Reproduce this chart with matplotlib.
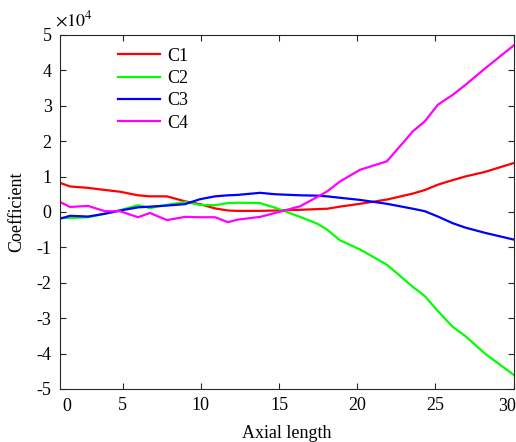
import matplotlib
matplotlib.use("Agg")
import matplotlib.pyplot as plt
import numpy as np

plt.rcParams["font.family"] = "Liberation Serif"
plt.rcParams["mathtext.fontset"] = "stix"
plt.rcParams["axes.unicode_minus"] = False

# Axial positions of the samples
x = [1.0, 1.64, 2.79, 3.88, 4.84, 5.99, 6.75, 7.84, 8.99, 9.95,
     10.91, 11.74, 12.32, 13.79, 14.75, 16.35, 17.44, 18.08, 18.9, 20.18,
     21.9, 23.57, 24.33, 25.16, 26.12, 26.9, 28.17, 30.0]

# Coefficients in units of 1e4
c1 = [0.82, 0.72, 0.68, 0.62, 0.57, 0.47, 0.44, 0.44, 0.30, 0.22,
      0.10, 0.04, 0.03, 0.03, 0.04, 0.06, 0.08, 0.09, 0.15, 0.23,
      0.35, 0.52, 0.62, 0.77, 0.90, 1.00, 1.13, 1.38]
c2 = [-0.17, -0.17, -0.15, -0.05, 0.05, 0.19, 0.11, 0.20, 0.28, 0.20,
      0.19, 0.25, 0.26, 0.25, 0.12, -0.14, -0.33, -0.50, -0.80, -1.06,
      -1.49, -2.12, -2.38, -2.80, -3.25, -3.50, -4.00, -4.60]
c3 = [-0.19, -0.11, -0.13, -0.05, 0.04, 0.13, 0.15, 0.18, 0.22, 0.36,
      0.44, 0.47, 0.48, 0.54, 0.50, 0.47, 0.46, 0.44, 0.40, 0.34,
      0.23, 0.09, 0.02, -0.13, -0.32, -0.44, -0.59, -0.78]
c4 = [0.28, 0.14, 0.17, 0.02, 0.02, -0.15, -0.03, -0.23, -0.14, -0.15,
      -0.15, -0.29, -0.22, -0.14, -0.03, 0.16, 0.42, 0.58, 0.86, 1.19,
      1.43, 2.28, 2.56, 3.03, 3.31, 3.58, 4.05, 4.70]

series = {"C1": c1, "C2": c2, "C3": c3, "C4": c4}
colors = ["#ff0000", "#00ff00", "#0000ff", "#ff00ff"]

xtick_pos = [5, 10, 15, 20, 25, 30]
ytick_pos = [-5, -4, -3, -2, -1, 0, 1, 2, 3, 4, 5]

fs = 13

fig = plt.figure(figsize=(5.16, 4.42), dpi=100)
ax = fig.add_axes([0.1163, 0.12, 0.879, 0.801])

for (name, vals), col in zip(series.items(), colors):
    ax.plot(x, vals, color=col, linewidth=1.6, label=name)

ax.set_xlim(1, 30)
ax.set_ylim(-5, 5)
ax.set_xticks(xtick_pos)
# end labels are placed by hand below
ax.set_xticklabels([str(v) for v in xtick_pos[:-1]] + [""])
ax.set_yticks(ytick_pos)
ax.set_yticklabels([str(v) for v in ytick_pos])
ax.tick_params(direction="in", length=4, width=0.8, top=True, right=True,
               labelsize=fs, colors="#262626", labelcolor="black", pad=6)
for sp in ax.spines.values():
    sp.set_color("#262626")
    sp.set_linewidth(0.8)

xt = ax.get_xaxis_transform()
ax.text(1.45, -0.025, "0", transform=xt, ha="center", va="top", fontsize=fs)
ax.text(29.6, -0.025, "30", transform=xt, ha="center", va="top", fontsize=fs)

ax.text(-0.01, 1.015, r"$\times10^{4}$", transform=ax.transAxes,
        ha="left", va="bottom", fontsize=fs)

ax.set_xlabel("Axial length", fontsize=fs, labelpad=8)
ax.set_ylabel("Coefficient", fontsize=fs, labelpad=8)

ax.legend(loc="upper left", bbox_to_anchor=(0.1, 1.0), frameon=False,
          fontsize=fs, handlelength=2.3, handletextpad=0.4,
          labelspacing=0.3, borderaxespad=0.3)

fig.savefig("out.png", dpi=100)
